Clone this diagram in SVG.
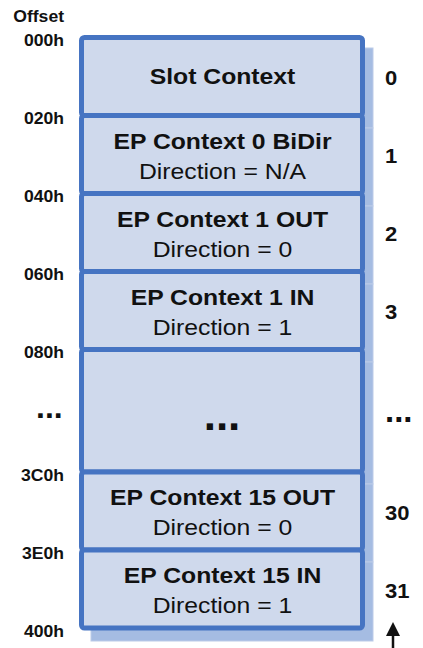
<svg xmlns="http://www.w3.org/2000/svg" width="423" height="648" viewBox="0 0 423 648">
  <style>
    .shadow { fill: #a5bce2; stroke: #bccbe8; stroke-width: 1; }
    .row { fill: #cfd9ec; stroke: #4674c2; stroke-width: 5; }
    .t { font-family: "Liberation Sans", Arial, sans-serif; fill: #111; }
    .b { font-weight: bold; }
    .title { font-size: 22.5px; font-weight: bold; text-anchor: middle; }
    .sub { font-size: 22.5px; text-anchor: middle; }
    .off { font-size: 16px; font-weight: bold; text-anchor: end; }
    .idx { font-size: 20px; font-weight: bold; }
  </style>
  <defs>
    <marker id="arrowhead" viewBox="0 0 14 14" refX="0" refY="7" markerWidth="14" markerHeight="14" markerUnits="userSpaceOnUse" orient="auto">
      <path d="M0 0 L14 7 L0 14 Z" fill="#111"/>
    </marker>
  </defs>

  <!-- drop shadow behind the context stack -->
  <g id="shadow">
    <rect class="shadow" x="91" y="48" width="282" height="80"/>
    <rect class="shadow" x="91" y="128" width="282" height="78"/>
    <rect class="shadow" x="91" y="206" width="282" height="78"/>
    <rect class="shadow" x="91" y="284" width="282" height="78"/>
    <rect class="shadow" x="91" y="362" width="282" height="122"/>
    <rect class="shadow" x="91" y="484" width="282" height="78"/>
    <rect class="shadow" x="91" y="562" width="282" height="79"/>
  </g>

  <g id="slot-context">
    <rect class="row" x="81.5" y="37.5" width="281" height="78" rx="3"/>
    <g transform="scale(1.1 1)">
      <text class="t title" x="202.3" y="84.5">Slot Context</text>
      <text class="t idx" x="350" y="85.5">0</text>
    </g>
  </g>

  <g id="ep0-bidir">
    <rect class="row" x="81.5" y="115.5" width="281" height="78" rx="3"/>
    <g transform="scale(1.1 1)">
      <text class="t title" x="202.3" y="149">EP Context 0 BiDir</text>
      <text class="t sub" x="202.3" y="179">Direction = N/A</text>
      <text class="t idx" x="350" y="163.5">1</text>
    </g>
  </g>

  <g id="ep1-out">
    <rect class="row" x="81.5" y="193.5" width="281" height="78" rx="3"/>
    <g transform="scale(1.1 1)">
      <text class="t title" x="202.3" y="227">EP Context 1 OUT</text>
      <text class="t sub" x="202.3" y="257">Direction = 0</text>
      <text class="t idx" x="350" y="241.5">2</text>
    </g>
  </g>

  <g id="ep1-in">
    <rect class="row" x="81.5" y="271.5" width="281" height="78" rx="3"/>
    <g transform="scale(1.1 1)">
      <text class="t title" x="202.3" y="305">EP Context 1 IN</text>
      <text class="t sub" x="202.3" y="335">Direction = 1</text>
      <text class="t idx" x="350" y="319.5">3</text>
    </g>
  </g>

  <g id="ep-gap">
    <rect class="row" x="81.5" y="349.5" width="281" height="122.5" rx="3"/>
    <text class="t b" x="222" y="430" font-size="44" text-anchor="middle">...</text>
    <text class="t b" x="385" y="422" font-size="33">...</text>
  </g>

  <g id="ep15-out">
    <rect class="row" x="81.5" y="472" width="281" height="78" rx="3"/>
    <g transform="scale(1.1 1)">
      <text class="t title" x="202.3" y="505.5">EP Context 15 OUT</text>
      <text class="t sub" x="202.3" y="535.5">Direction = 0</text>
      <text class="t idx" x="350" y="520">30</text>
    </g>
  </g>

  <g id="ep15-in">
    <rect class="row" x="81.5" y="550" width="281" height="78" rx="3"/>
    <g transform="scale(1.1 1)">
      <text class="t title" x="202.3" y="583.5">EP Context 15 IN</text>
      <text class="t sub" x="202.3" y="613.5">Direction = 1</text>
      <text class="t idx" x="350" y="598">31</text>
    </g>
  </g>

  <!-- offset column -->
  <g id="offsets" transform="scale(1.1 1)">
    <text class="t off" x="58.2" y="22">Offset</text>
    <text class="t off" x="58.2" y="46">000h</text>
    <text class="t off" x="58.2" y="124">020h</text>
    <text class="t off" x="58.2" y="202">040h</text>
    <text class="t off" x="58.2" y="280">060h</text>
    <text class="t off" x="58.2" y="358">080h</text>
    <text class="t off" x="58.2" y="481">3C0h</text>
    <text class="t off" x="58.2" y="559">3E0h</text>
    <text class="t off" x="58.2" y="637">400h</text>
  </g>
  <text class="t b" x="36" y="418" font-size="32">...</text>

  <g id="connectors">
    <line x1="393" y1="648" x2="393" y2="636" stroke="#111" stroke-width="2.5" marker-end="url(#arrowhead)"/>
  </g>
</svg>
